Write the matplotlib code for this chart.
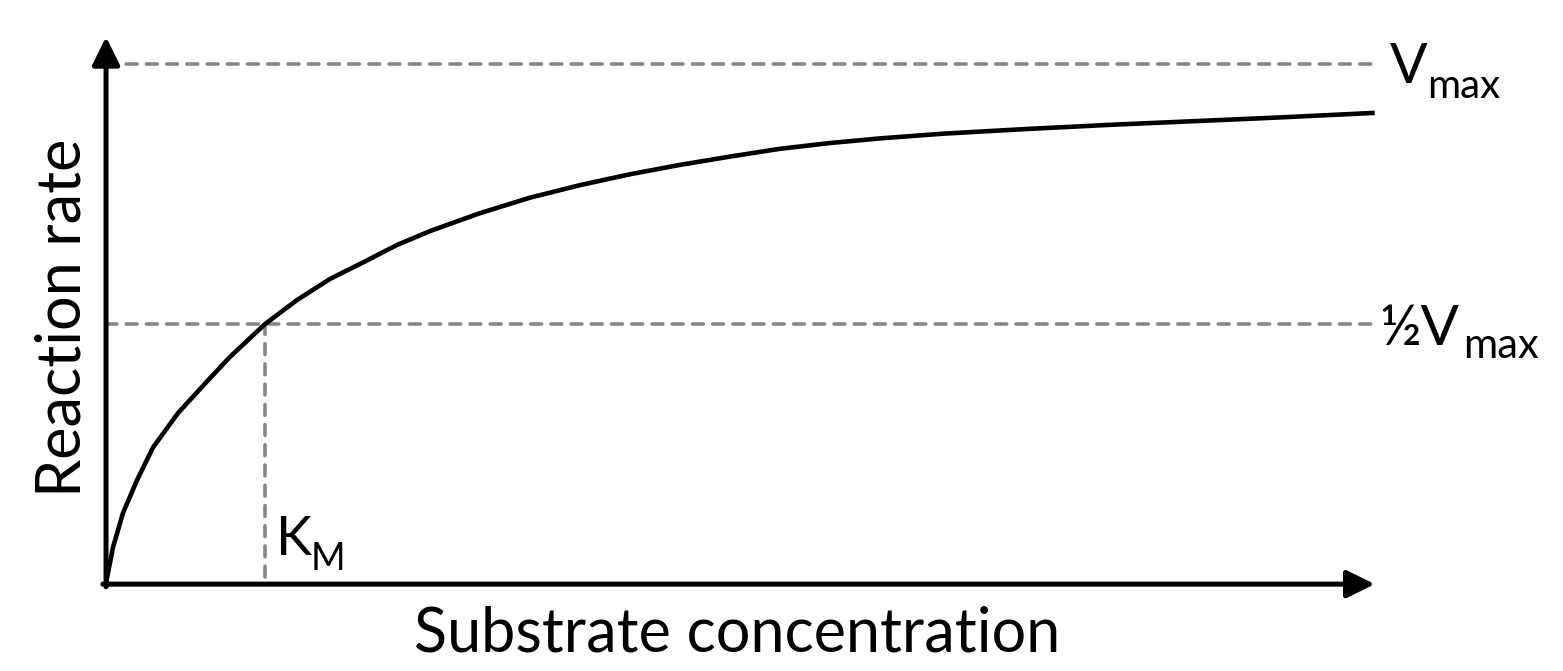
import numpy as np
import matplotlib.pyplot as plt

plt.rcParams['font.family'] = ['Lato', 'DejaVu Sans']

# curve (S in units of K_M, rate in units of Vmax)
substrate = [0.0, 0.006, 0.044, 0.107, 0.195, 0.296, 0.453, 0.642, 0.78, 1.0,
             1.20, 1.41, 1.62, 1.83, 2.04, 2.35, 2.667, 2.98, 3.296, 3.61,
             3.925, 4.24, 4.553, 4.87, 5.264, 5.79, 6.314, 6.84, 7.365, 7.98]
rate = [0.0, 0.012, 0.071, 0.137, 0.2, 0.263, 0.329, 0.392, 0.437, 0.5,
        0.546, 0.587, 0.619, 0.652, 0.679, 0.713, 0.743, 0.767, 0.788, 0.806,
        0.822, 0.837, 0.848, 0.857, 0.866, 0.875, 0.883, 0.89, 0.897, 0.906]

vmax = 1.0
half_vmax = 0.5
km = 1.0
x_end = 7.98

GREY = '#878787'

fig = plt.figure(figsize=(15.63, 6.71), dpi=100)
ax = fig.add_axes([0, 0, 1, 1])
ax.set_xlim(-0.667, 9.164)
ax.set_ylim(-0.167, 1.123)
ax.axis('off')

# dashed guides
dash = dict(color=GREY, lw=2.6, ls=(0, (3.0, 2.6)), dash_capstyle='round', zorder=1)
ax.plot([0, x_end], [vmax, vmax], **dash)
ax.plot([0, x_end], [half_vmax, half_vmax], **dash)
ax.plot([km, km], [0.013, half_vmax], **dash)

# curve
ax.plot(substrate, rate, color='black', lw=3.3, solid_capstyle='butt',
        solid_joinstyle='round', zorder=3)

# axes with arrow heads
arrow = dict(arrowstyle='-|>,head_length=0.85,head_width=0.42', color='black',
             lw=3.6, mutation_scale=20, shrinkA=0, shrinkB=0)
ax.annotate('', xy=(x_end, 0), xytext=(-0.02, 0), arrowprops=arrow, zorder=4)
ax.annotate('', xy=(0, 1.052), xytext=(0, -0.005), arrowprops=arrow, zorder=4)

# labels
ax.text(3.97, -0.13, 'Substrate concentration', fontsize=44, ha='center', va='baseline')
ax.text(-0.27, 0.512, 'Reaction rate', fontsize=44, ha='center', va='center', rotation=90)

lab = dict(textcoords='offset points', ha='left', va='baseline')
ax.annotate('V', xy=(x_end, vmax), xytext=(10.8, -13.7), fontsize=40, **lab)
ax.annotate('max', xy=(x_end, vmax), xytext=(37.4, -24.5), fontsize=29, **lab)
ax.annotate('½V', xy=(x_end, half_vmax), xytext=(3.6, -15), fontsize=41, **lab)
ax.annotate('max', xy=(x_end, half_vmax), xytext=(63.4, -24.5), fontsize=30, **lab)
ax.annotate('K', xy=(km, 0), xytext=(8.0, 21), fontsize=39, **lab)
ax.annotate('M', xy=(km, 0), xytext=(33, 10), fontsize=27, **lab)

fig.savefig('out.png', dpi=100)
